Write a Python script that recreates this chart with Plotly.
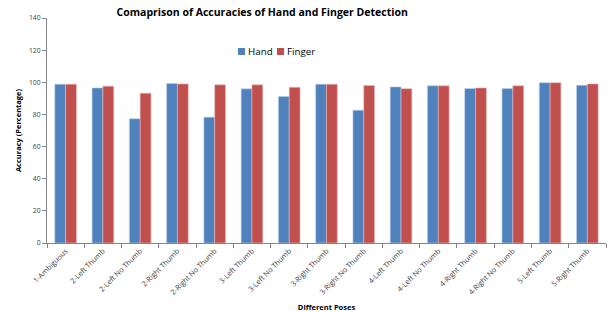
import plotly.graph_objects as go

categories = ["1-Ambiguous", "2-Left Thumb", "2-Left No Thumb", "2-Right Thumb",
              "2-Right No Thumb", "3-Left Thumb", "3-Left No Thumb", "3-Right Thumb",
              "3-Right No Thumb", "4-Left Thumb", "4-Left No Thumb", "4-Right Thumb",
              "4-Right No Thumb", "5-Left Thumb", "5-Right Thumb"]
hand = [98.8, 96.5, 77.3, 99.2, 78.3, 95.9, 91.1, 98.8, 82.6, 97.1, 97.8, 96.1, 96.1, 99.7, 98.1]
finger = [98.8, 97.6, 93.2, 99.0, 98.4, 98.4, 96.9, 98.8, 98.0, 96.0, 97.8, 96.5, 97.8, 99.7, 99.0]
y_ticks = [0, 20, 40, 60, 80, 100, 120, 140]
series_names = ["Hand", "Finger"]
series_colors = ["#4F81BD", "#C0504D"]
edge_colors = ["#B9CDE5", "#E6B9B8"]

W, H = 607, 313
L, R, T, B = 47, 1, 18, 70
PW, PH = W - L - R, H - T - B

def px_x(px):
    return (px - L) / PW

def px_y(py):
    return (H - B - py) / PH

font = "Open Sans"
fig = go.Figure()
for name, vals, col, edge in zip(series_names, [hand, finger], series_colors, edge_colors):
    fig.add_trace(go.Bar(x=categories, y=vals, name=name, showlegend=False,
                         marker=dict(color=col, line=dict(color=edge, width=0.6))))

# custom compact legend (square right next to its label, as in the reference)
legend_x = [238, 277]
for name, col, lx in zip(series_names, series_colors, legend_x):
    fig.add_shape(type="rect", xref="paper", yref="paper",
                  x0=px_x(lx), x1=px_x(lx + 7), y0=px_y(55), y1=px_y(48),
                  fillcolor=col, line=dict(width=0))
    fig.add_annotation(text=name, xref="paper", yref="paper", x=px_x(lx + 8), y=px_y(51.5),
                       xanchor="left", yanchor="middle", showarrow=False,
                       font=dict(size=9.8, color="black", family=font))

fig.update_layout(
    width=W, height=H,
    margin=dict(l=L, r=R, t=T, b=B),
    paper_bgcolor="white", plot_bgcolor="white",
    barmode="group", bargap=0.42, bargroupgap=0,
    font=dict(family=font, color="#404040"),
    title=dict(text="<b>Comaprison of Accuracies of Hand and Finger Detection</b>",
               x=0.432, xanchor="center", y=0.96, yanchor="middle",
               font=dict(size=10.5, color="black", family=font)),
    xaxis=dict(
        automargin=False,
        tickangle=-45, tickfont=dict(size=7.3, color="#404040"),
        showline=True, linecolor="#868686", linewidth=1,
        ticks="outside", ticklen=4, tickcolor="#868686",
        tickson="boundaries", showgrid=False,
        title=dict(text="<b>Different Poses</b>", font=dict(size=7.5, color="black"), standoff=8),
    ),
    yaxis=dict(
        automargin=False,
        range=[0, 140], tickvals=y_ticks, tickfont=dict(size=6.8, color="#404040"),
        showline=True, linecolor="#868686", linewidth=1,
        ticks="outside", ticklen=4, tickcolor="#868686",
        showgrid=False, zeroline=False,
        title=dict(text="<b>Accuracy (Percentage)</b>", font=dict(size=7.5, color="black"), standoff=6),
    ),
)

fig.write_html("out.html", config={"displayModeBar": False},
               post_script="document.body.style.margin='0';")
